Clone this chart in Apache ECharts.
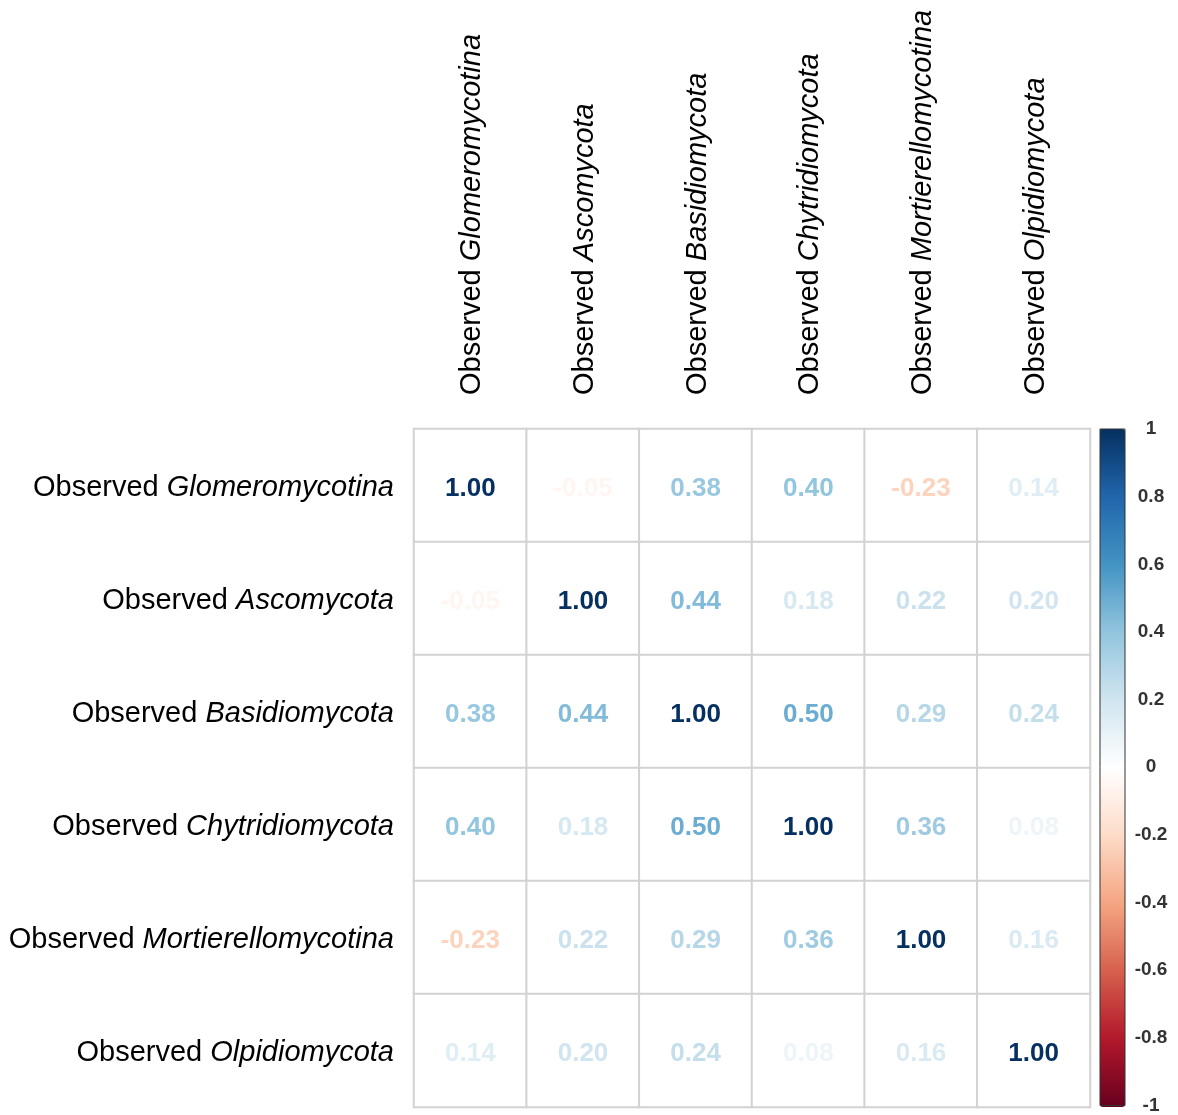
<!DOCTYPE html>
<html>
<head>
<meta charset="utf-8">
<script src="https://cdn.jsdelivr.net/npm/echarts@6/dist/echarts.min.js"></script>
<style>
html,body{margin:0;padding:0;background:#fff;}
#chart{width:1178px;height:1115px;}
</style>
</head>
<body>
<div id="chart"></div>
<script>
// ---- data ----
const prefix = 'Observed ';
const taxa = ['Glomeromycotina', 'Ascomycota', 'Basidiomycota', 'Chytridiomycota', 'Mortierellomycotina', 'Olpidiomycota'];
const rowGlomeromycotina     = [1.00, -0.05, 0.38, 0.40, -0.23, 0.14];
const rowAscomycota          = [-0.05, 1.00, 0.44, 0.18, 0.22, 0.20];
const rowBasidiomycota       = [0.38, 0.44, 1.00, 0.50, 0.29, 0.24];
const rowChytridiomycota     = [0.40, 0.18, 0.50, 1.00, 0.36, 0.08];
const rowMortierellomycotina = [-0.23, 0.22, 0.29, 0.36, 1.00, 0.16];
const rowOlpidiomycota       = [0.14, 0.20, 0.24, 0.08, 0.16, 1.00];
const colorbarMin = -1;
const colorbarMax = 1;
const colorbarStep = 0.2;

// ---- style ----
const palette = ['#67001F','#B2182B','#D6604D','#F4A582','#FDDBC7','#FFFFFF','#D1E5F0','#92C5DE','#4393C3','#2166AC','#053061'];
const FONT = '"Liberation Sans", Arial, sans-serif';

function hexToRgb(h){ h=h.replace('#',''); return [parseInt(h.substr(0,2),16),parseInt(h.substr(2,2),16),parseInt(h.substr(4,2),16)]; }
function valueColor(v){
  const t = (v - colorbarMin) / (colorbarMax - colorbarMin) * (palette.length - 1);
  const i = Math.max(0, Math.min(palette.length - 2, Math.floor(t)));
  const f = t - i;
  const a = hexToRgb(palette[i]), b = hexToRgb(palette[i+1]);
  const c = a.map((x,k)=>Math.round(x + (b[k]-x)*f));
  return 'rgb(' + c.join(',') + ')';
}

const rows = [rowGlomeromycotina, rowAscomycota, rowBasidiomycota, rowChytridiomycota, rowMortierellomycotina, rowOlpidiomycota];
const heatData = [];
rows.forEach((row, r) => {
  row.forEach((v, c) => {
    heatData.push({
      value: [c, r, v],
      label: { color: valueColor(v) }
    });
  });
});

const labelRich = {
  n: { fontSize: 29, color: '#000', fontFamily: FONT },
  i: { fontSize: 29, color: '#000', fontFamily: FONT, fontStyle: 'italic' }
};
const labelFmt = name => '{n|' + prefix + '}{i|' + name + '}';

const chart = echarts.init(document.getElementById('chart'), null, { renderer: 'canvas' });
chart.setOption({
  backgroundColor: '#fff',
  animation: false,
  grid: [
    { left: 414, top: 429, width: 676, height: 678, containLabel: false },
    { left: 1100, top: 429, width: 25, height: 678, show: true, borderColor: '#333', borderWidth: 1, backgroundColor: 'transparent', z: 6 }
  ],
  xAxis: [
    {
      type: 'category', data: taxa, position: 'top', gridIndex: 0,
      axisLine: { show: false }, axisTick: { show: false }, splitLine: { show: false },
      axisLabel: { rotate: -90, margin: 34, padding: [4, 0, 0, 0], formatter: labelFmt, rich: labelRich, interval: 0 }
    },
    { type: 'value', gridIndex: 1, show: false, min: 0, max: 1 }
  ],
  yAxis: [
    {
      type: 'category', data: taxa, inverse: true, gridIndex: 0,
      axisLine: { show: false }, axisTick: { show: false }, splitLine: { show: false },
      axisLabel: { margin: 20, padding: [4, 0, 0, 0], formatter: labelFmt, rich: labelRich, interval: 0 }
    },
    {
      type: 'value', gridIndex: 1, position: 'right', min: colorbarMin, max: colorbarMax, interval: colorbarStep,
      axisLine: { show: false }, splitLine: { show: false },
      axisTick: { show: true, length: 4, lineStyle: { color: '#333', width: 1 } },
      axisLabel: {
        margin: 26, align: 'center', fontSize: 19, fontWeight: 'bold', color: '#333', fontFamily: FONT,
        formatter: v => String(+(+v).toFixed(1))
      }
    }
  ],
  visualMap: {
    type: 'continuous', min: colorbarMin, max: colorbarMax,
    seriesIndex: 1, dimension: 1,
    left: 1100, top: 429, itemWidth: 25, itemHeight: 678,
    padding: 0, calculable: false, showLabel: false, text: ['', ''],
    orient: 'vertical', z: 1,
    inRange: { color: palette }
  },
  series: [
    {
      type: 'heatmap', xAxisIndex: 0, yAxisIndex: 0,
      data: heatData,
      itemStyle: { color: '#ffffff', borderColor: '#d2d2d2', borderWidth: 2 },
      emphasis: { disabled: true },
      label: {
        show: true, fontSize: 26, fontWeight: 'bold', fontFamily: FONT, offset: [0, 3],
        formatter: p => p.value[2].toFixed(2)
      }
    },
    {
      type: 'scatter', xAxisIndex: 1, yAxisIndex: 1, data: [], symbolSize: 0
    }
  ]
});
</script>
</body>
</html>
